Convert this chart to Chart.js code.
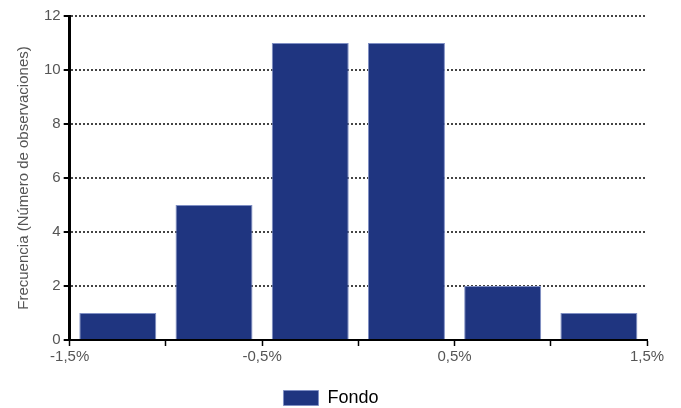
<!DOCTYPE html>
<html>
<head>
<meta charset="utf-8">
<script src="https://cdn.jsdelivr.net/npm/chart.js@4"></script>
<style>
  body { margin: 0; background: #fff; }
  #wrap { width: 681px; height: 408px; }
</style>
</head>
<body>
<div id="wrap"><canvas id="myChart"></canvas></div>
<script>
// bin centres (% rendimiento) and how many observations fall in each
const binCenters = [-1.25, -0.75, -0.25, 0.25, 0.75, 1.25]
const counts = [1, 5, 11, 11, 2, 1]
const xLabels = [-1.5, -0.5, 0.5, 1.5]
const seriesName = 'Fondo'

const points = binCenters.map((c, i) => ({ x: c, y: counts[i] }))

const ctx = document.getElementById('myChart')
const chart = new Chart(ctx, {
    type: 'bar',
    data: {
        datasets: [{
            label: seriesName,
            data: points,
            backgroundColor: '#1f3580',
            borderColor: '#7f8fc4',
            borderWidth: 1,
            barPercentage: 0.8,
            categoryPercentage: 1,
        }]
    },
    options: {
        responsive: true,
        maintainAspectRatio: false,
        animation: false,
        layout: {
            padding: { top: 16, right: 34, left: 15, bottom: -9 }
        },
        plugins: {
            legend: {
                position: 'bottom',
                labels: {
                    boxWidth: 35,
                    boxHeight: 15,
                    color: '#000',
                    font: { family: 'Arial, Liberation Sans', size: 18 },
                    padding: 2
                }
            },
            tooltip: { enabled: false }
        },
        scales: {
            x: {
                type: 'linear',
                offset: false,
                min: -1.5,
                max: 1.5,
                afterFit: s => { s.height = 47 },
                grid: {
                    drawOnChartArea: false,
                    offset: false,
                    tickLength: 6,
                    tickColor: '#000',
                    tickWidth: 1.5
                },
                border: { color: '#000', width: 2 },
                ticks: {
                    stepSize: 0.5,
                    autoSkip: false,
                    maxRotation: 0,
                    color: '#555',
                    font: { family: 'Arial, Liberation Sans', size: 15 },
                    padding: 2,
                    callback: v => xLabels.some(l => Math.abs(l - v) < 1e-6)
                        ? v.toFixed(1).replace('.', ',') + '%' : ''
                }
            },
            y: {
                min: 0,
                max: 12,
                grid: {
                    color: '#444',
                    lineWidth: 2,
                    tickLength: 6,
                    tickColor: '#000',
                    tickWidth: 2,
                    tickBorderDash: []
                },
                border: { color: '#000', width: 3, dash: [2, 2] },
                ticks: {
                    stepSize: 2,
                    color: '#555',
                    font: { family: 'Arial, Liberation Sans', size: 15 },
                    padding: 3
                },
                title: {
                    display: true,
                    text: 'Frecuencia (Número de observaciones)',
                    color: '#555',
                    font: { family: 'Arial, Liberation Sans', size: 15 },
                    padding: { top: 0, bottom: 8 }
                }
            }
        }
    }
})
</script>
</body>
</html>
